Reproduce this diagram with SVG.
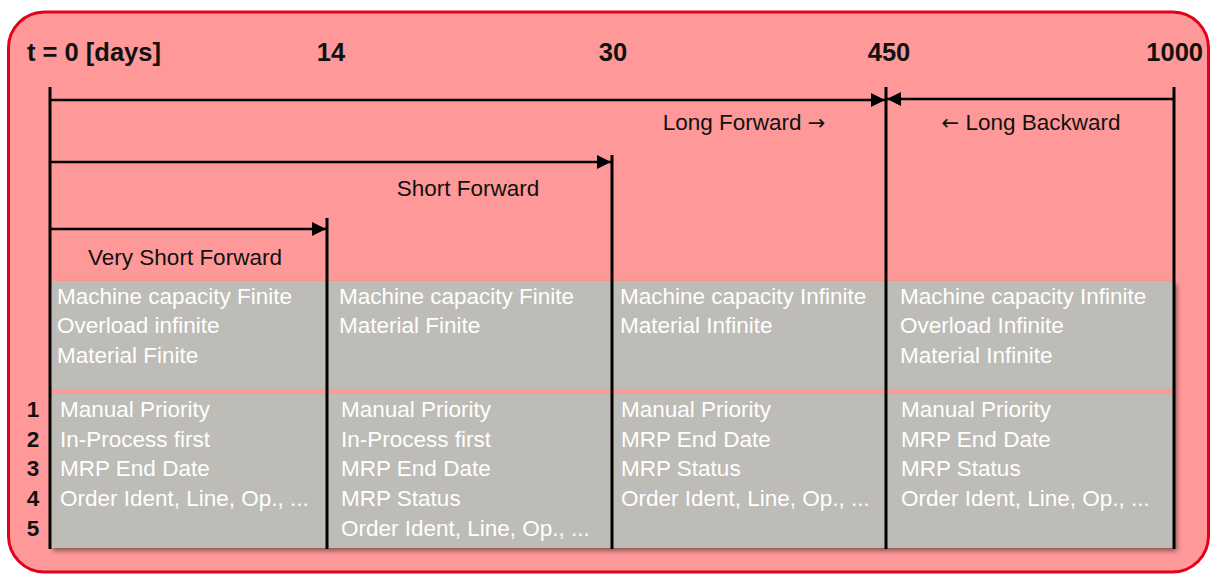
<svg xmlns="http://www.w3.org/2000/svg" width="1211" height="575" viewBox="0 0 1211 575">
  <style>
    .hdr { font-family: "Liberation Sans", Arial, sans-serif; font-weight: bold; font-size: 25.5px; fill: #111; }
    .num { font-family: "Liberation Sans", Arial, sans-serif; font-weight: bold; font-size: 22.5px; fill: #111; text-anchor: middle; }
    .lbl { font-family: "Liberation Sans", Arial, sans-serif; font-size: 22.5px; fill: #111; }
    .arr { font-family: "DejaVu Sans", sans-serif; font-size: 21px; }
    .cell { font-family: "Liberation Sans", Arial, sans-serif; font-size: 22.5px; fill: #ffffff; }
    .vline { stroke: #000; stroke-width: 3; fill: none; }
    .hline { stroke: #000; stroke-width: 2.5; fill: none; }
  </style>
  <defs>
    <marker id="ah" viewBox="0 0 14 14" refX="14" refY="7" markerWidth="14" markerHeight="14" markerUnits="userSpaceOnUse" orient="auto">
      <path d="M0,0 L14,7 L0,14 Z" fill="#000"/>
    </marker>
    <filter id="sh" x="-5%" y="-5%" width="110%" height="120%">
      <feGaussianBlur in="SourceAlpha" stdDeviation="2.5"/>
      <feOffset dx="3" dy="3" result="b"/>
      <feComponentTransfer><feFuncA type="linear" slope="0.45"/></feComponentTransfer>
      <feMerge><feMergeNode/><feMergeNode in="SourceGraphic"/></feMerge>
    </filter>
  </defs>

  <g id="frame">
    <rect x="8.5" y="12" width="1200" height="560" rx="36" ry="36" fill="#FF9999" stroke="#E2001A" stroke-width="3"/>
  </g>

  <g id="headers">
    <text class="hdr" x="27" y="61">t = 0 [days]</text>
    <text class="hdr" x="331" y="61" text-anchor="middle">14</text>
    <text class="hdr" x="613" y="61" text-anchor="middle">30</text>
    <text class="hdr" x="889" y="61" text-anchor="middle">450</text>
    <text class="hdr" x="1203" y="61" text-anchor="end">1000</text>
  </g>

  <g id="panel">
    <rect x="50" y="281" width="1124" height="267" fill="#BDBCB7" filter="url(#sh)"/>
    <rect x="50" y="389" width="1124" height="5" fill="#FF9999"/>
  </g>

  <g id="connectors">
    <line class="vline" x1="50" y1="87" x2="50" y2="549"/>
    <line class="vline" x1="327" y1="218" x2="327" y2="549"/>
    <line class="vline" x1="612" y1="155" x2="612" y2="549"/>
    <line class="vline" x1="886" y1="87" x2="886" y2="549"/>
    <line class="vline" x1="1174" y1="87" x2="1174" y2="549"/>
    <line class="hline" x1="50" y1="100" x2="885" y2="100" marker-end="url(#ah)"/>
    <line class="hline" x1="1174" y1="99" x2="887" y2="99" marker-end="url(#ah)"/>
    <line class="hline" x1="50" y1="162" x2="611" y2="162" marker-end="url(#ah)"/>
    <line class="hline" x1="50" y1="229" x2="326" y2="229" marker-end="url(#ah)"/>
  </g>

  <g id="labels">
    <text class="lbl" x="744" y="130" text-anchor="middle">Long Forward <tspan class="arr">→</tspan></text>
    <text class="lbl" x="1031" y="130" text-anchor="middle"><tspan class="arr">←</tspan> Long Backward</text>
    <text class="lbl" x="468" y="196" text-anchor="middle">Short Forward</text>
    <text class="lbl" x="185" y="265" text-anchor="middle">Very Short Forward</text>
  </g>

  <g id="rank-numbers">
    <text class="num" x="33" y="417">1</text>
    <text class="num" x="33" y="447">2</text>
    <text class="num" x="33" y="476">3</text>
    <text class="num" x="33" y="506">4</text>
    <text class="num" x="33" y="536">5</text>
  </g>

  <g id="col-very-short">
    <text class="cell" x="57" y="304">Machine capacity Finite</text>
    <text class="cell" x="57" y="333">Overload infinite</text>
    <text class="cell" x="57" y="363">Material Finite</text>
    <text class="cell" x="60" y="417">Manual Priority</text>
    <text class="cell" x="60" y="447">In-Process first</text>
    <text class="cell" x="60" y="476">MRP End Date</text>
    <text class="cell" x="60" y="506">Order Ident, Line, Op., ...</text>
  </g>

  <g id="col-short">
    <text class="cell" x="339" y="304">Machine capacity Finite</text>
    <text class="cell" x="339" y="333">Material Finite</text>
    <text class="cell" x="341" y="417">Manual Priority</text>
    <text class="cell" x="341" y="447">In-Process first</text>
    <text class="cell" x="341" y="476">MRP End Date</text>
    <text class="cell" x="341" y="506">MRP Status</text>
    <text class="cell" x="341" y="536">Order Ident, Line, Op., ...</text>
  </g>

  <g id="col-long-forward">
    <text class="cell" x="620" y="304">Machine capacity Infinite</text>
    <text class="cell" x="620" y="333">Material Infinite</text>
    <text class="cell" x="621" y="417">Manual Priority</text>
    <text class="cell" x="621" y="447">MRP End Date</text>
    <text class="cell" x="621" y="476">MRP Status</text>
    <text class="cell" x="621" y="506">Order Ident, Line, Op., ...</text>
  </g>

  <g id="col-long-backward">
    <text class="cell" x="900" y="304">Machine capacity Infinite</text>
    <text class="cell" x="900" y="333">Overload Infinite</text>
    <text class="cell" x="900" y="363">Material Infinite</text>
    <text class="cell" x="901" y="417">Manual Priority</text>
    <text class="cell" x="901" y="447">MRP End Date</text>
    <text class="cell" x="901" y="476">MRP Status</text>
    <text class="cell" x="901" y="506">Order Ident, Line, Op., ...</text>
  </g>
</svg>
